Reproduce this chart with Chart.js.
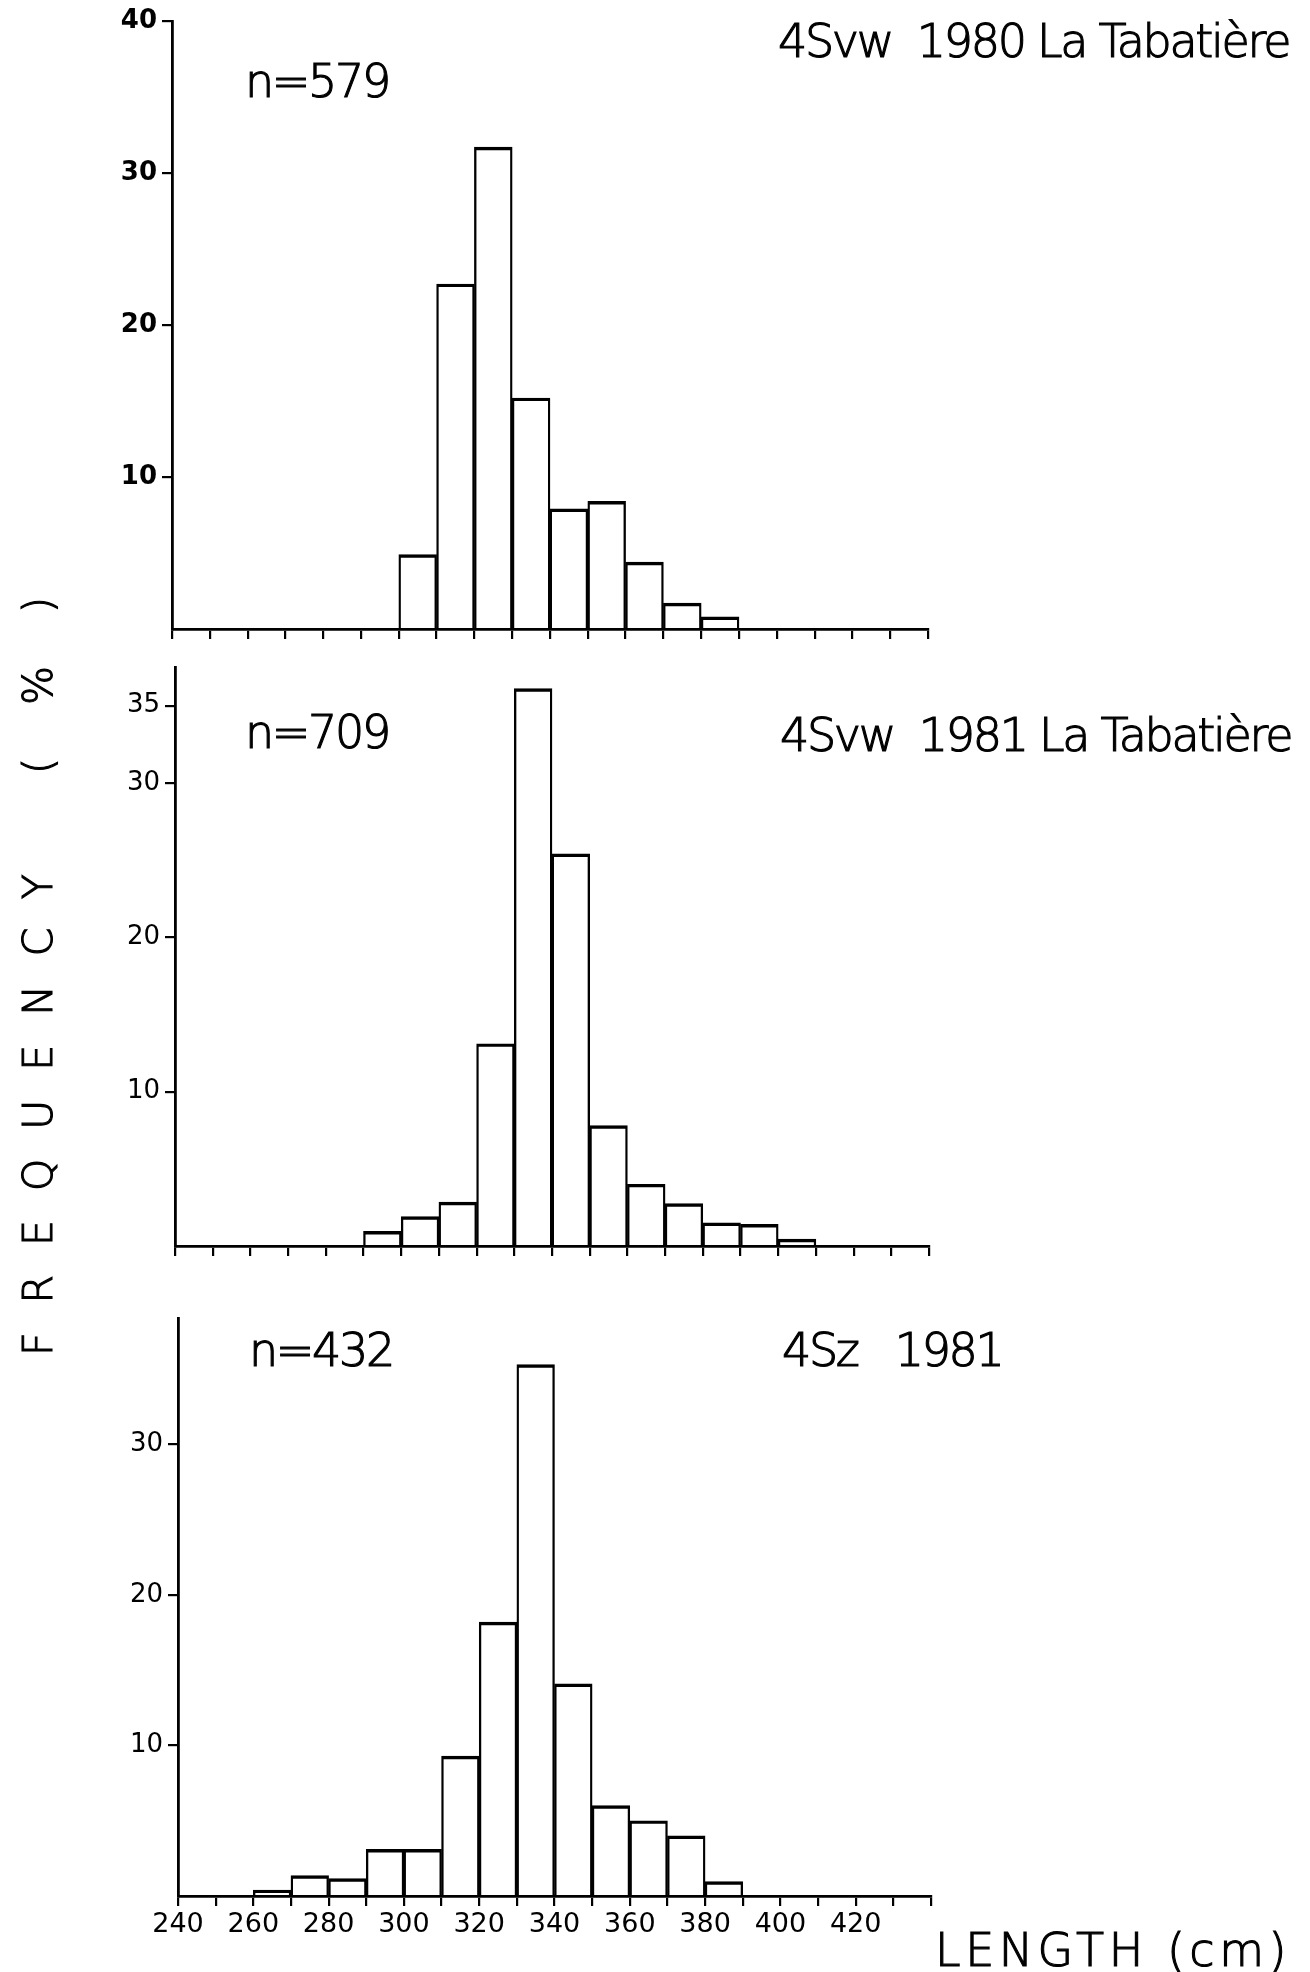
<!DOCTYPE html>
<html>
<head>
<meta charset="utf-8">
<script src="https://cdn.jsdelivr.net/npm/chart.js@4.4.1/dist/chart.umd.min.js"></script>
<style>
  html, body { margin: 0; padding: 0; background: #fff; }
  body { width: 1310px; height: 1972px; position: relative; overflow: hidden; font-family: "DejaVu Sans", sans-serif; color: #000; }
  canvas { position: absolute; left: 0; }
  .lbl { position: absolute; font-family: "DejaVu Sans Light", "DejaVu Sans", sans-serif; font-weight: 200; font-size: 46px; line-height: 1; white-space: pre; letter-spacing: -2.3px; -webkit-text-stroke: 1.1px #000; }
  .vert { position: absolute; writing-mode: vertical-rl; transform: rotate(180deg); font-family: "DejaVu Sans Light", "DejaVu Sans", sans-serif; font-weight: 200; font-size: 41px; line-height: 41px; width: 41px; text-align: start; white-space: pre; -webkit-text-stroke: 1.1px #000; }
</style>
</head>
<body>
<canvas id="c1"></canvas>
<canvas id="c2"></canvas>
<canvas id="c3"></canvas>

<div class="lbl" style="left:245px; top:58px;">n=579</div>
<div class="lbl" style="left:778px; top:18px;">4Svw  1980 La Tabatière</div>
<div class="lbl" style="left:245px; top:709px;">n=709</div>
<div class="lbl" style="left:780px; top:712px;">4Svw  1981 La Tabatière</div>
<div class="lbl" style="left:249px; top:1327px;">n=432</div>
<div class="lbl" style="left:782px; top:1327px;">4Sz   1981</div>
<div class="lbl" style="left:935px; top:1927px; letter-spacing:4.5px;">LENGTH (cm)</div>
<div class="vert" style="left:18px; top:845px; height:511px; letter-spacing:29px;">FREQUENCY</div>
<div class="vert" style="left:18px; top:573px; height:201px; letter-spacing:20px;">( % )</div>

<script>
// ---- data (bin start lengths in cm, frequencies in %) ----
const bins1980 = [300, 310, 320, 330, 340, 350, 360, 370, 380];
const freq1980 = [4.9, 22.7, 31.7, 15.2, 7.9, 8.4, 4.4, 1.7, 0.8];

const bins1981 = [290, 300, 310, 320, 330, 340, 350, 360, 370, 380, 390, 400];
const freq1981 = [0.95, 1.9, 2.85, 13.1, 36.1, 25.4, 7.8, 4.0, 2.75, 1.5, 1.4, 0.45];

const bins4Sz = [260, 270, 280, 290, 300, 310, 320, 330, 340, 350, 360, 370, 380];
const freq4Sz = [0.4, 1.35, 1.15, 3.1, 3.1, 9.3, 18.2, 35.3, 14.1, 6.0, 5.0, 4.0, 0.95];

const binWidth = 10;
const xMin = 240, xMax = 440;
const xTickLabels = ['240', '260', '280', '300', '320', '340', '360', '380', '400', '420'];

const yTicks1980 = [10, 20, 30, 40];
const yTicks1981 = [10, 20, 30, 35];
const yTicks4Sz = [10, 20, 30];

// ---- layout ----
const panels = [
  { id: 'c1', top: 0,    height: 680, padTop: 21, xH: 51, left: 172, right: 928, yMax: 40,   bins: bins1980, freq: freq1980, yTicks: yTicks1980, xLabels: false, yBold: true },
  { id: 'c2', top: 640,  height: 660, padTop: 27, xH: 54, left: 175, right: 929, yMax: 37.5, bins: bins1981, freq: freq1981, yTicks: yTicks1981, xLabels: false, yBold: false },
  { id: 'c3', top: 1290, height: 682, padTop: 28, xH: 76, left: 178, right: 931, yMax: 38.4, bins: bins4Sz,  freq: freq4Sz,  yTicks: yTicks4Sz,  xLabels: true,  yBold: false }
];

panels.forEach(p => {
  const cv = document.getElementById(p.id);
  cv.width = 1310; cv.height = p.height;
  cv.style.top = p.top + 'px';
  cv.style.width = '1310px'; cv.style.height = p.height + 'px';

  new Chart(cv, {
    type: 'bar',
    data: {
      datasets: [{
        data: p.bins.map((b, i) => ({ x: b + binWidth / 2, y: p.freq[i] })),
        backgroundColor: 'rgba(255,255,255,0)',
        borderColor: '#000',
        borderWidth: { top: 2.8, left: 1.7, right: 1.7, bottom: 0 },
        borderSkipped: 'bottom',
        barPercentage: 1,
        categoryPercentage: 1
      }]
    },
    options: {
      responsive: false,
      animation: false,
      devicePixelRatio: 1,
      layout: { padding: { top: p.padTop, left: 0, right: 1310 - p.right, bottom: 0 } },
      plugins: { legend: { display: false }, tooltip: { enabled: false } },
      scales: {
        x: {
          type: 'linear',
          min: xMin, max: xMax,
          offset: false,
          afterFit: s => { s.height = p.xH; },
          ticks: {
            stepSize: binWidth,
            autoSkip: false,
            maxRotation: 0,
            color: '#000',
            padding: 3,
            font: { family: 'DejaVu Sans', size: 27 },
            callback: v => (p.xLabels && xTickLabels.includes(String(v))) ? String(v) : ''
          },
          grid: { offset: false, drawOnChartArea: false, drawTicks: true, tickLength: 10, color: '#000', lineWidth: 2.2 },
          border: { display: true, color: '#000', width: 2.8 }
        },
        y: {
          type: 'linear',
          min: 0, max: p.yMax,
          afterFit: s => { s.width = p.left; },
          afterBuildTicks: s => { s.ticks = p.yTicks.map(v => ({ value: v })); },
          ticks: {
            color: '#000',
            padding: 5,
            font: { family: 'DejaVu Sans', size: 26, weight: p.yBold ? 'bold' : 'normal' },
            callback: v => String(v)
          },
          grid: { drawOnChartArea: false, drawTicks: true, tickLength: 10, color: '#000', lineWidth: 2.2 },
          border: { display: true, color: '#000', width: 2.8 }
        }
      }
    }
  });
});
</script>
</body>
</html>
